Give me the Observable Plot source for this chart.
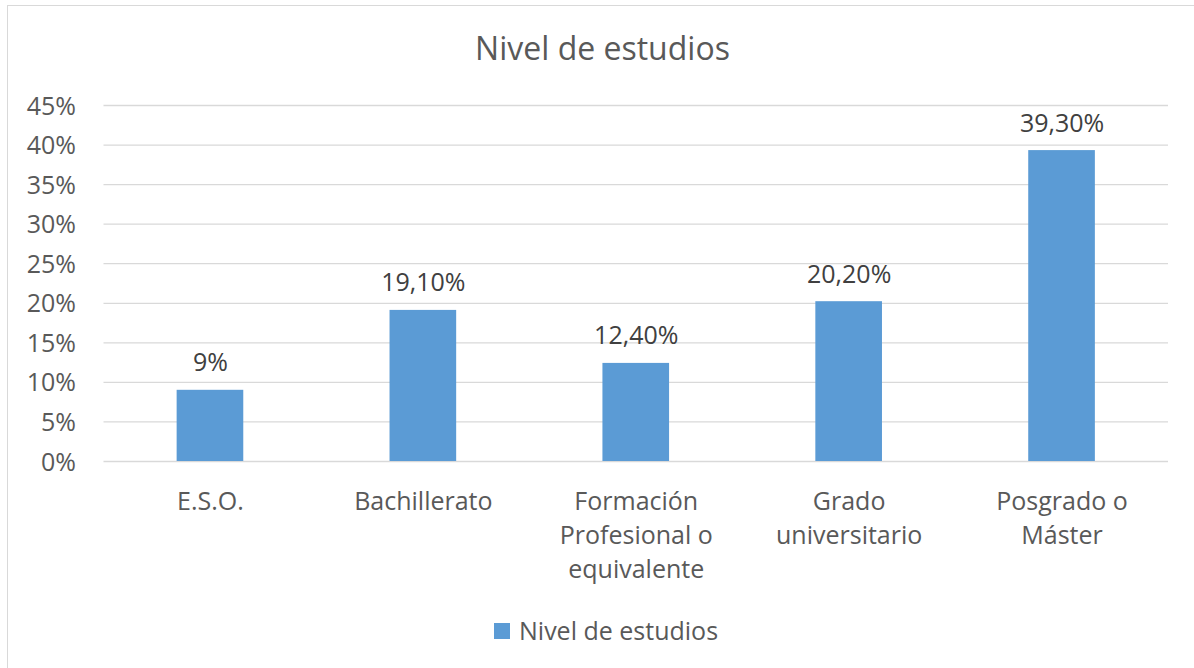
<!DOCTYPE html>
<html>
<head>
<meta charset="utf-8">
<script src="https://cdn.jsdelivr.net/npm/d3@7"></script>
<script src="https://cdn.jsdelivr.net/npm/@observablehq/plot@0.6"></script>
<style>
  html, body { margin: 0; padding: 0; background: #fff; overflow: hidden; }
  body { width: 1194px; height: 668px; position: relative; font-family: "Open Sans", sans-serif; color: #595959; }
  #frame { position: absolute; left: 7px; top: 5px; width: 1200px; height: 700px; border: 1.5px solid #d9d9d9; box-sizing: border-box; }
  #title { position: absolute; left: 0; top: 31.5px; width: 1205px; text-align: center; font-size: 32px; line-height: 32px; }
  #chart { position: absolute; left: 0; top: 0; }
  #legend-swatch { position: absolute; left: 494px; top: 623px; width: 16px; height: 16px; background: #5B9BD5; }
  #legend-text { position: absolute; left: 519px; top: 618px; font-size: 25px; line-height: 25px; white-space: nowrap; }
</style>
</head>
<body>
<div id="frame"></div>
<div id="title">Nivel de estudios</div>
<div id="chart"></div>
<div id="legend-swatch"></div>
<div id="legend-text">Nivel de estudios</div>
<script>
const categories = ["E.S.O.", "Bachillerato", "Formación Profesional o equivalente", "Grado universitario", "Posgrado o Máster"];
const tickLabels = ["E.S.O.", "Bachillerato", "Formación\nProfesional o\nequivalente", "Grado\nuniversitario", "Posgrado o\nMáster"];
const values = [9, 19.1, 12.4, 20.2, 39.3];
const valueLabels = ["9%", "19,10%", "12,40%", "20,20%", "39,30%"];
const yTicks = [0, 5, 10, 15, 20, 25, 30, 35, 40, 45];
const seriesName = "Nivel de estudios";

const data = categories.map((c, i) => ({category: c, value: values[i], label: valueLabels[i]}));

const chart = Plot.plot({
  width: 1194,
  height: 600,
  marginTop: 105,
  marginBottom: 139,
  marginLeft: 103.5,
  marginRight: 26,
  style: {fontFamily: "Open Sans, sans-serif", fontSize: "25px", color: "#595959", background: "transparent"},
  x: {domain: categories, paddingInner: 0.687, paddingOuter: 0.3435, round: false, label: null},
  y: {domain: [0, 45], label: null},
  marks: [
    Plot.gridY(yTicks, {stroke: "#d9d9d9", strokeOpacity: 1, strokeWidth: 1.3}),
    Plot.barY(data, {x: "category", y: "value", fill: "#5B9BD5"}),
    Plot.text(data, {x: "category", y: "value", text: "label", lineAnchor: "bottom", dy: -19, fill: "#404040", fontSize: 25}),
    Plot.axisY(yTicks, {tickSize: 0, tickPadding: 28, tickFormat: d => d + "%", fontSize: 25, fill: "#595959", dy: 1, label: null}),
    Plot.axisX({tickSize: 0, tickPadding: 24, tickFormat: d => tickLabels[categories.indexOf(d)], lineHeight: 1.36, fontSize: 25, fill: "#595959", label: null})
  ]
});
document.getElementById("chart").appendChild(chart);
</script>
</body>
</html>
